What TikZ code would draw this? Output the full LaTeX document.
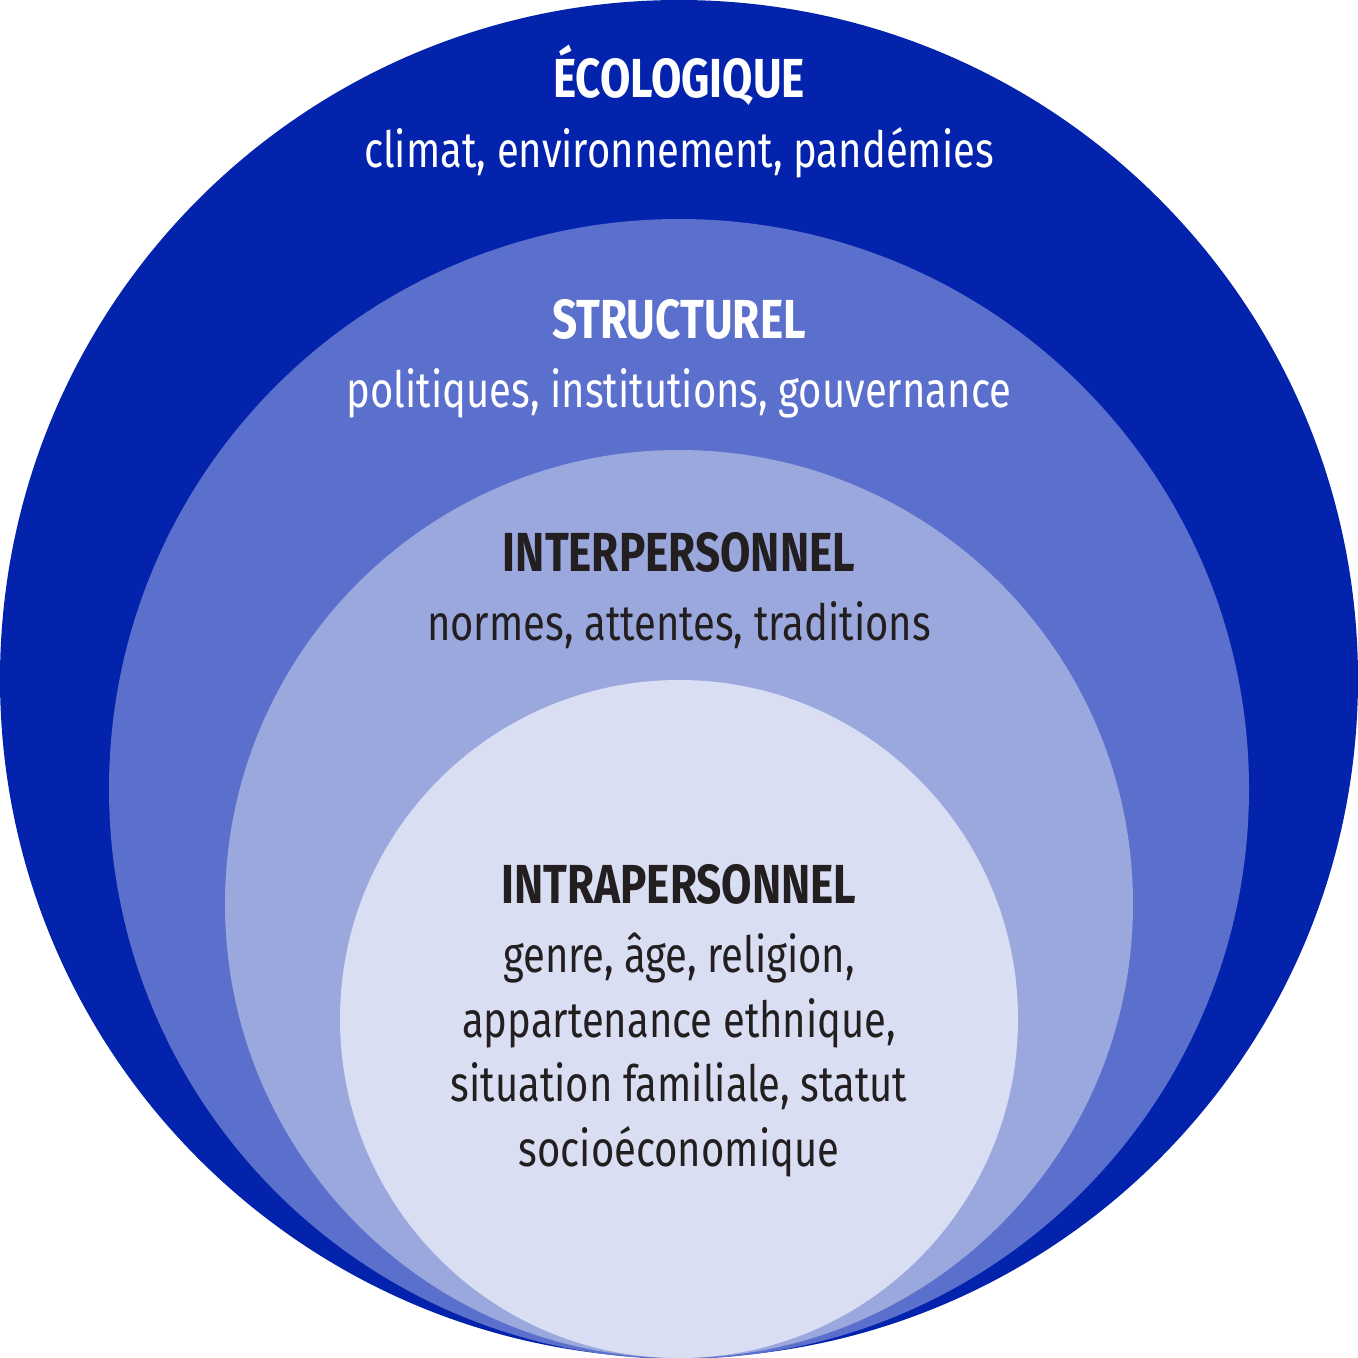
\documentclass[tikz,border=0pt]{standalone}
\usepackage{fontspec}
\setmainfont[FakeStretch=0.8]{Fira Sans}
\definecolor{cA}{RGB}{3,35,172}
\definecolor{cB}{RGB}{91,111,204}
\definecolor{cC}{RGB}{155,168,222}
\definecolor{cD}{RGB}{217,222,242}
\definecolor{ink}{RGB}{35,31,32}
\tikzset{
  ring/.style={circle, draw=none, inner sep=0pt},
  head/.style={anchor=base, inner sep=0pt, font=\fontsize{55}{55}\selectfont\bfseries},
  body/.style={anchor=base, inner sep=0pt, font=\fontsize{50}{50}\selectfont},
}
\begin{document}
\begin{tikzpicture}[x=1pt,y=-1pt]
\useasboundingbox (0,0) rectangle (1358,1358);
\fill[cA] (679,679) circle[radius=679];
\fill[cB] (679,789) circle[radius=570];
\fill[cC] (679,904) circle[radius=454];
\fill[cD] (679,1019) circle[radius=339];
\node[head, text=white] (ecoh) at (679,97) {ÉCOLOGIQUE};
\node[body, text=white] (ecob) at (679,167) {climat, environnement, pandémies};
\node[head, text=white] (strh) at (679,338) {STRUCTUREL};
\node[body, text=white] (strb) at (679,407) {politiques, institutions, gouvernance};
\node[head, text=ink] (inth) at (679,571) {INTERPERSONNEL};
\node[body, text=ink] (intb) at (679,640) {normes, attentes, traditions};
\node[head, text=ink] (intrh) at (679,903) {INTRAPERSONNEL};
\node[body, text=ink] (intr1) at (679,972) {genre, âge, religion,};
\node[body, text=ink] (intr2) at (679,1037) {appartenance ethnique,};
\node[body, text=ink] (intr3) at (679,1101) {situation familiale, statut};
\node[body, text=ink] (intr4) at (679,1166) {socioéconomique};
\end{tikzpicture}
\end{document}
